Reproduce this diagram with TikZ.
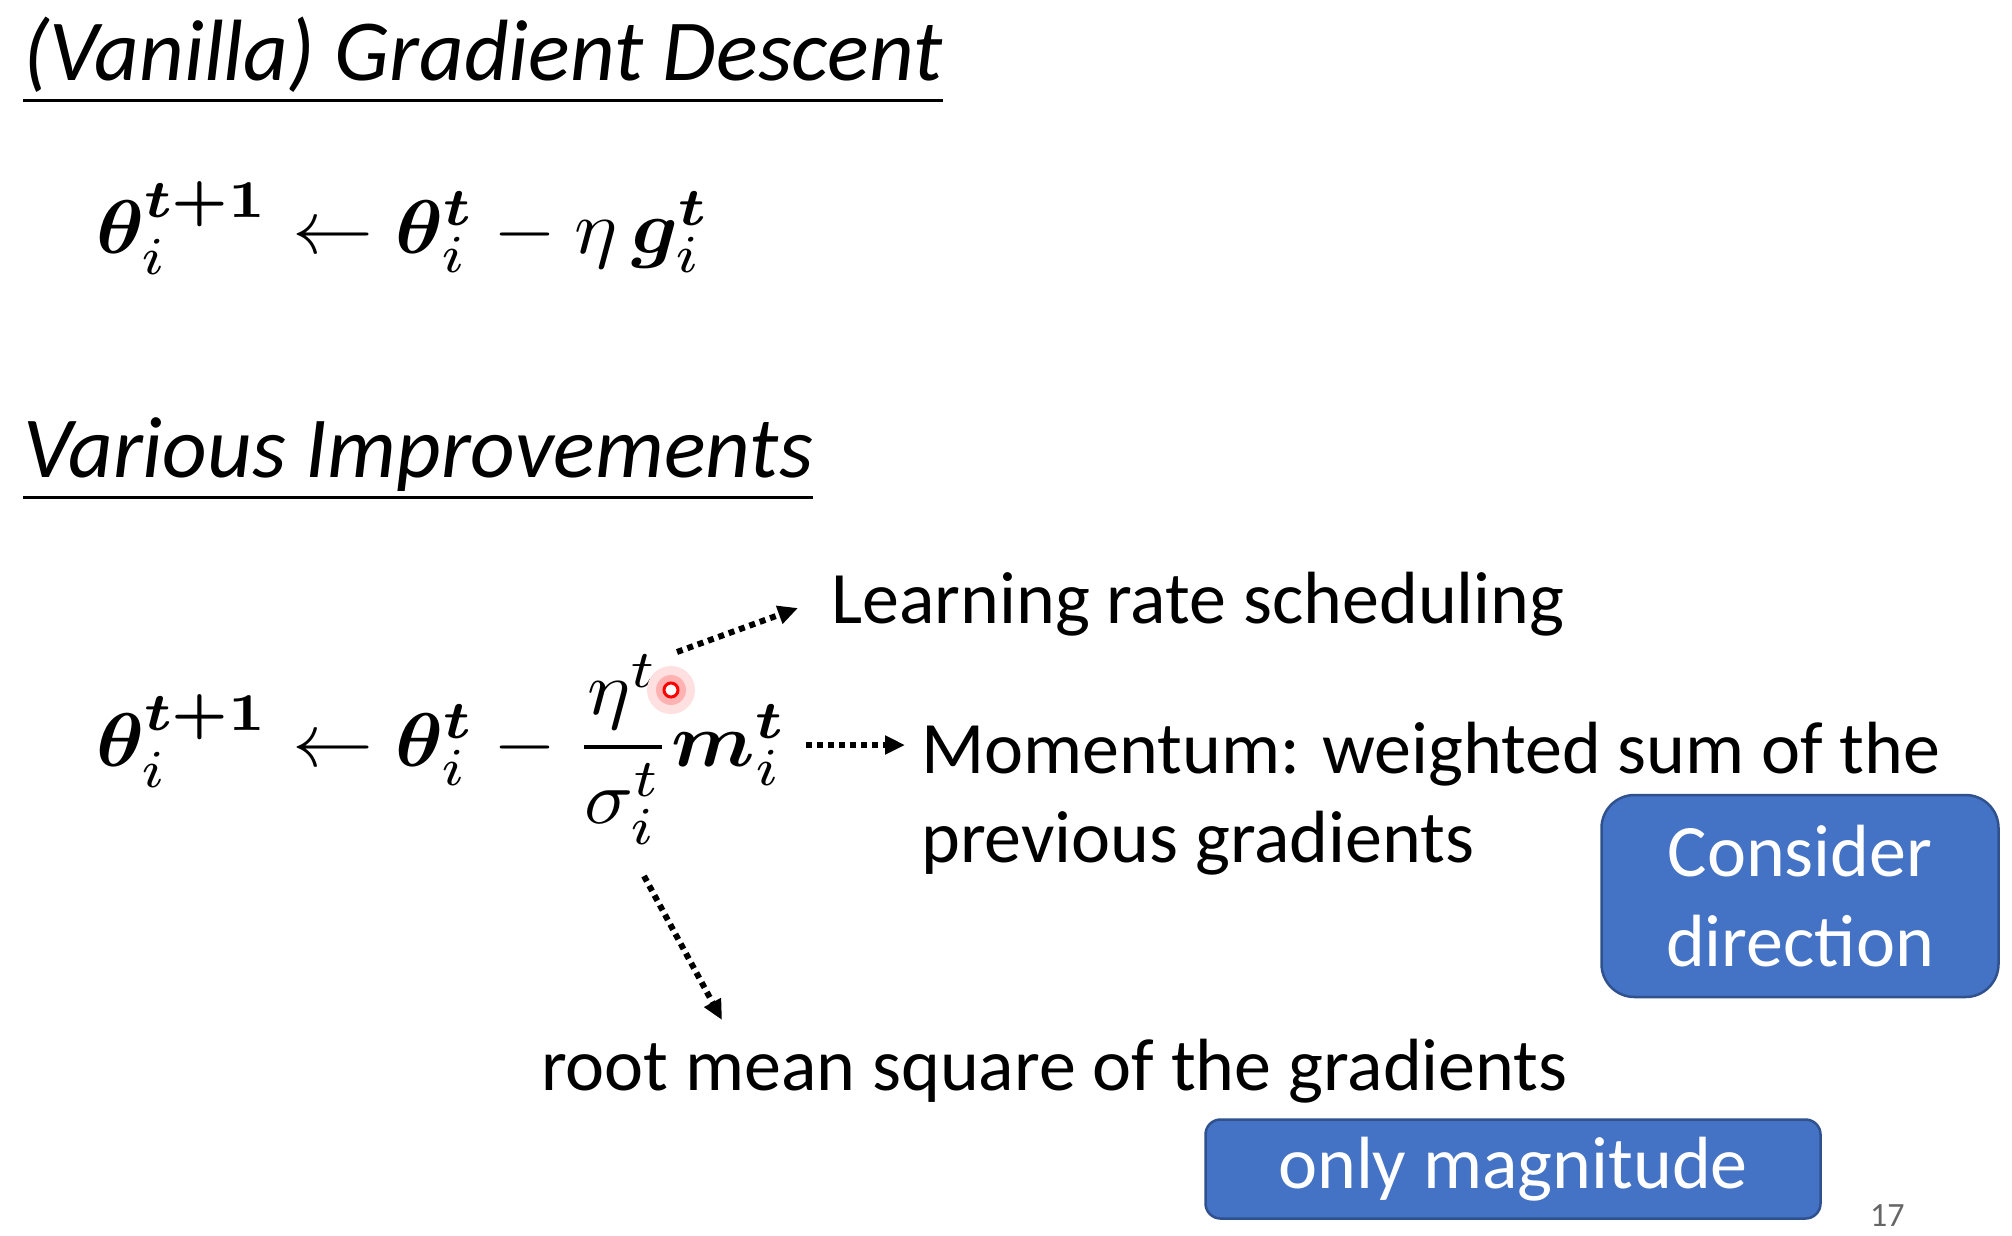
\documentclass[tikz,border=0pt]{standalone}
\usepackage{amsmath,bm,graphicx}
\usepackage{fontspec}
\setmainfont{Carlito}
\usetikzlibrary{arrows.meta}
\definecolor{boxblue}{HTML}{4472C4}
\definecolor{boxedge}{HTML}{2F528F}
\newcommand{\bigeq}[1]{\scalebox{8.1}[7.6]{\fontsize{10}{12}\selectfont$#1$}}
\begin{document}
\begin{tikzpicture}[x=1pt,y=-1pt,
  ttl/.style={font=\fontsize{87}{100}\selectfont\itshape, inner sep=0, anchor=base west},
  lbl/.style={font=\fontsize{74}{88}\selectfont, inner sep=0, anchor=base west},
  eqn/.style={inner sep=0, anchor=base west},
  ptr/.style={line width=6, dash pattern=on 6 off 5, -{Triangle[length=20,width=18]}},
  bluebox/.style={fill=boxblue, draw=boxedge, line width=2.5, text=white, align=center,
    font=\fontsize{74}{90}\selectfont, inner sep=0},
  uline/.style={line width=3}
]
\useasboundingbox (0,0) rectangle (2012,1235);
\fill[white] (0,0) rectangle (2012,1235);

% titles
\node[ttl] (t1) at (23,80) {(Vanilla) Gradient Descent};
\draw[uline] (23,100) -- (t1.east |- 0,100);
\node[ttl] (t2) at (23,477) {Various Improvements};
\draw[uline] (23,497) -- (t2.east |- 0,497);

% equations
\node[eqn] (eq1) at (96,253) {\bigeq{\bm{\theta}_i^{\bm{t+1}} \leftarrow \bm{\theta}_i^{\bm{t}} - \eta\,\bm{g}_i^{\bm{t}}}};
\node[eqn] (eq2) at (96,766) {\bigeq{\bm{\theta}_i^{\bm{t+1}} \leftarrow \bm{\theta}_i^{\bm{t}} - \dfrac{\eta^t\rule[-1.8pt]{0pt}{1.8pt}}{\rule{0pt}{8.6pt}\sigma_i^t}\bm{m}_i^{\bm{t}}}};

% laser pointer dot
\fill[red!12] (671,690) circle (24);
\fill[red!30] (671,690) circle (15);
\draw[red, line width=3, fill=white] (671,690) circle (7);

% labels
\node[lbl] (lrs) at (831,623) {Learning rate scheduling};
\node[lbl] (mom1) at (921,773) {Momentum: weighted sum of the};
\node[lbl] (mom2) at (921,862) {previous gradients};
\node[lbl] (rms) at (541,1090) {root mean square of the gradients};

% arrows
\coordinate (a1s) at (677,652);
\coordinate (a1e) at (798,608);
\coordinate (a2s) at (806,745);
\coordinate (a3s) at (644,876);
\coordinate (a3e) at (722,1020);
\draw[ptr] (a1s) -- (a1e);
\draw[ptr] (a2s) -- ([xshift=-16pt]a2s -| mom1.west);
\draw[ptr] (a3s) -- (a3e);

% boxes
\node[bluebox, minimum width=397, minimum height=202, rounded corners=33] (dir) at (1800,896) {Consider\\direction};
\node[bluebox, minimum width=615, minimum height=99, rounded corners=15] (mag) at (1513,1169) {only magnitude};

% page number
\node[inner sep=0, anchor=base west, text=black!60, font=\fontsize{34}{40}\selectfont] (pg) at (1870,1226) {17};
\end{tikzpicture}
\end{document}
